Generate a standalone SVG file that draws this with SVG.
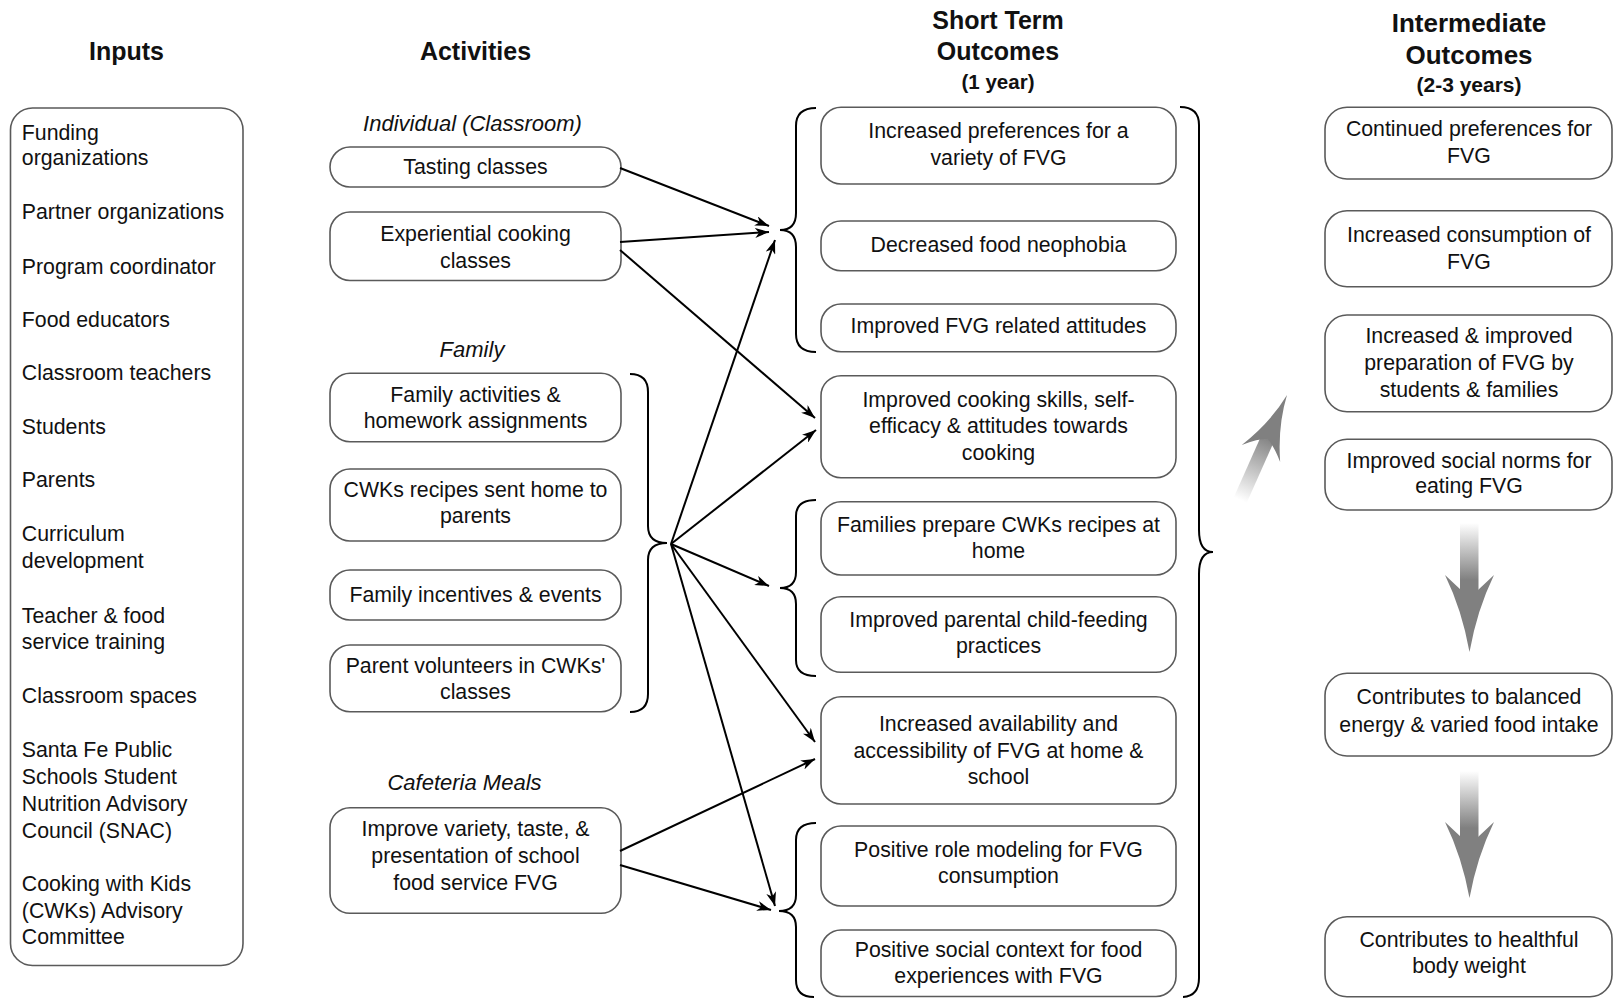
<svg xmlns="http://www.w3.org/2000/svg" width="1614" height="998" viewBox="0 0 1614 998">
<style>
.bx{fill:#fff;stroke:#5a5a5a;stroke-width:1.6}
.t{font-family:"Liberation Sans",Arial,sans-serif;font-size:21.3px;fill:#111}
.c{text-anchor:middle}
.h{font-family:"Liberation Sans",Arial,sans-serif;font-weight:bold;font-size:25px;fill:#111;text-anchor:middle}
.hs{font-family:"Liberation Sans",Arial,sans-serif;font-weight:bold;font-size:20.5px;fill:#111;text-anchor:middle}
.it{font-family:"Liberation Sans",Arial,sans-serif;font-style:italic;font-size:22px;fill:#111;text-anchor:middle}
.ar{fill:none;stroke:#000;stroke-width:2;marker-end:url(#ah)}
.br{fill:none;stroke:#000;stroke-width:2}
</style>
<defs>
<marker id="ah" viewBox="0 0 14 10" markerWidth="14" markerHeight="10" refX="14" refY="5" orient="auto" markerUnits="userSpaceOnUse">
<path d="M0,0 L14,5 L0,10 L4,5 Z" fill="#000"/>
</marker>
<linearGradient id="gd1" gradientUnits="userSpaceOnUse" x1="0" y1="523" x2="0" y2="580">
<stop offset="0" stop-color="#808080" stop-opacity="0"/>
<stop offset="1" stop-color="#808080"/>
</linearGradient>
<linearGradient id="gd2" gradientUnits="userSpaceOnUse" x1="0" y1="771" x2="0" y2="828">
<stop offset="0" stop-color="#808080" stop-opacity="0"/>
<stop offset="1" stop-color="#808080"/>
</linearGradient>
<linearGradient id="gu" gradientUnits="userSpaceOnUse" x1="0" y1="115" x2="0" y2="45">
<stop offset="0" stop-color="#808080" stop-opacity="0"/>
<stop offset="1" stop-color="#808080"/>
</linearGradient>
</defs>
<rect width="1614" height="998" fill="#fff"/>

<g id="headers">
<text class="h" x="126.5" y="60">Inputs</text>
<text class="h" x="475.5" y="60">Activities</text>
<text class="h" x="998" y="28.5">Short Term</text>
<text class="h" x="998" y="60">Outcomes</text>
<text class="hs" x="998" y="88.5">(1 year)</text>
<text class="h" x="1469" y="31.5" style="font-size:26px">Intermediate</text>
<text class="h" x="1469" y="63.5" style="font-size:26px">Outcomes</text>
<text class="hs" x="1469" y="91.5" style="font-size:21px">(2-3 years)</text>
<text class="it" x="472.5" y="131">Individual (Classroom)</text>
<text class="it" x="472" y="356.5">Family</text>
<text class="it" x="464.5" y="790">Cafeteria Meals</text>
</g>

<g id="inputs">
<rect class="bx" x="10.5" y="108" width="232.5" height="857.5" rx="22"/>
<text class="t" x="21.8" y="139.5">Funding</text>
<text class="t" x="21.8" y="165">organizations</text>
<text class="t" x="21.8" y="219.3">Partner organizations</text>
<text class="t" x="21.8" y="274">Program coordinator</text>
<text class="t" x="21.8" y="326.7">Food educators</text>
<text class="t" x="21.8" y="380">Classroom teachers</text>
<text class="t" x="21.8" y="434.3">Students</text>
<text class="t" x="21.8" y="486.7">Parents</text>
<text class="t" x="21.8" y="540.7">Curriculum</text>
<text class="t" x="21.8" y="567.5">development</text>
<text class="t" x="21.8" y="622.7">Teacher &amp; food</text>
<text class="t" x="21.8" y="649.3">service training</text>
<text class="t" x="21.8" y="702.7">Classroom spaces</text>
<text class="t" x="21.8" y="757.3">Santa Fe Public</text>
<text class="t" x="21.8" y="784.3">Schools Student</text>
<text class="t" x="21.8" y="811">Nutrition Advisory</text>
<text class="t" x="21.8" y="837.7">Council (SNAC)</text>
<text class="t" x="21.8" y="891">Cooking with Kids</text>
<text class="t" x="21.8" y="917.7">(CWKs) Advisory</text>
<text class="t" x="21.8" y="944.3">Committee</text>
</g>

<g id="act-tasting">
<rect class="bx" x="330" y="147" width="291" height="40" rx="20"/>
<text class="t c" x="475.5" y="174">Tasting classes</text>
</g>
<g id="act-cooking">
<rect class="bx" x="330" y="212" width="291" height="68.5" rx="20"/>
<text class="t c" x="475.5" y="240.7">Experiential cooking</text>
<text class="t c" x="475.5" y="267.7">classes</text>
</g>
<g id="act-family-activities">
<rect class="bx" x="330" y="373.3" width="291" height="68.4" rx="20"/>
<text class="t c" x="475.5" y="401.7">Family activities &amp;</text>
<text class="t c" x="475.5" y="428.3">homework assignments</text>
</g>
<g id="act-recipes">
<rect class="bx" x="330" y="469" width="291" height="72" rx="20"/>
<text class="t c" x="475.5" y="496.7">CWKs recipes sent home to</text>
<text class="t c" x="475.5" y="523.3">parents</text>
</g>
<g id="act-incentives">
<rect class="bx" x="330" y="570" width="291" height="50" rx="20"/>
<text class="t c" x="475.5" y="602.3">Family incentives &amp; events</text>
</g>
<g id="act-volunteers">
<rect class="bx" x="330" y="645" width="291" height="66.7" rx="20"/>
<text class="t c" x="475.5" y="673.3">Parent volunteers in CWKs'</text>
<text class="t c" x="475.5" y="699.3">classes</text>
</g>
<g id="act-cafeteria">
<rect class="bx" x="330" y="807.7" width="291" height="105.6" rx="20"/>
<text class="t c" x="475.5" y="835.7">Improve variety, taste, &amp;</text>
<text class="t c" x="475.5" y="862.7">presentation of school</text>
<text class="t c" x="475.5" y="890">food service FVG</text>
</g>

<g id="st-preferences">
<rect class="bx" x="821" y="107.3" width="355" height="76.7" rx="20"/>
<text class="t c" x="998.5" y="138.3">Increased preferences for a</text>
<text class="t c" x="998.5" y="165">variety of FVG</text>
</g>
<g id="st-neophobia">
<rect class="bx" x="821" y="221" width="355" height="49.7" rx="20"/>
<text class="t c" x="998.5" y="252.3">Decreased food neophobia</text>
</g>
<g id="st-attitudes">
<rect class="bx" x="821" y="304" width="355" height="47.7" rx="20"/>
<text class="t c" x="998.5" y="333.3">Improved FVG related attitudes</text>
</g>
<g id="st-cooking">
<rect class="bx" x="821" y="375.7" width="355" height="102" rx="20"/>
<text class="t c" x="998.5" y="406.7">Improved cooking skills, self-</text>
<text class="t c" x="998.5" y="433.3">efficacy &amp; attitudes towards</text>
<text class="t c" x="998.5" y="460">cooking</text>
</g>
<g id="st-families">
<rect class="bx" x="821" y="501.7" width="355" height="73.3" rx="20"/>
<text class="t c" x="998.5" y="531.7">Families prepare CWKs recipes at</text>
<text class="t c" x="998.5" y="558.3">home</text>
</g>
<g id="st-parental">
<rect class="bx" x="821" y="596.7" width="355" height="75.6" rx="20"/>
<text class="t c" x="998.5" y="626.7">Improved parental child-feeding</text>
<text class="t c" x="998.5" y="652.7">practices</text>
</g>
<g id="st-availability">
<rect class="bx" x="821" y="696.7" width="355" height="107.3" rx="20"/>
<text class="t c" x="998.5" y="731">Increased availability and</text>
<text class="t c" x="998.5" y="757.7">accessibility of FVG at home &amp;</text>
<text class="t c" x="998.5" y="784.3">school</text>
</g>
<g id="st-role">
<rect class="bx" x="821" y="826" width="355" height="80" rx="20"/>
<text class="t c" x="998.5" y="856.7">Positive role modeling for FVG</text>
<text class="t c" x="998.5" y="883.3">consumption</text>
</g>
<g id="st-social">
<rect class="bx" x="821" y="930" width="355" height="66.5" rx="20"/>
<text class="t c" x="998.5" y="956.7">Positive social context for food</text>
<text class="t c" x="998.5" y="982.7">experiences with FVG</text>
</g>

<g id="im-continued">
<rect class="bx" x="1325" y="107.3" width="287" height="71.7" rx="22"/>
<text class="t c" x="1469" y="136">Continued preferences for</text>
<text class="t c" x="1469" y="162.7">FVG</text>
</g>
<g id="im-consumption">
<rect class="bx" x="1325" y="210.7" width="287" height="76" rx="22"/>
<text class="t c" x="1469" y="242.3">Increased consumption of</text>
<text class="t c" x="1469" y="269.3">FVG</text>
</g>
<g id="im-preparation">
<rect class="bx" x="1325" y="315" width="287" height="96.7" rx="22"/>
<text class="t c" x="1469" y="343.3">Increased &amp; improved</text>
<text class="t c" x="1469" y="370">preparation of FVG by</text>
<text class="t c" x="1469" y="397.3">students &amp; families</text>
</g>
<g id="im-norms">
<rect class="bx" x="1325" y="439.3" width="287" height="70.7" rx="22"/>
<text class="t c" x="1469" y="468.3">Improved social norms for</text>
<text class="t c" x="1469" y="493.3">eating FVG</text>
</g>
<g id="im-balanced">
<rect class="bx" x="1325" y="673.3" width="287" height="82.7" rx="22"/>
<text class="t c" x="1469" y="704">Contributes to balanced</text>
<text class="t c" x="1469" y="731.7">energy &amp; varied food intake</text>
</g>
<g id="im-weight">
<rect class="bx" x="1325" y="916.7" width="287" height="80" rx="22"/>
<text class="t c" x="1469" y="947.3">Contributes to healthful</text>
<text class="t c" x="1469" y="973.3">body weight</text>
</g>

<g id="braces">
<path class="br" d="M630,374 Q648,374 648,392 L648,526 Q648,543 667,543 Q648,543 648,560 L648,694 Q648,712 630,712"/>
<path class="br" d="M816,108 Q796,108 796,126 L796,213 Q796,230 780,230 Q796,230 796,247 L796,334 Q796,352 816,352"/>
<path class="br" d="M816,500 Q796,500 796,516 L796,572 Q796,588 780,588 Q796,588 796,604 L796,660 Q796,676 816,676"/>
<path class="br" d="M816,823 Q796,823 796,840 L796,895 Q796,911 779,911 Q796,911 796,927 L796,980 Q796,997 814,997"/>
<path class="br" d="M1180,107 Q1199,107 1199,125 L1199,530 Q1199,552 1213,552 Q1199,552 1199,574 L1199,978 Q1199,996 1183,997"/>
</g>

<g id="connectors">
<path class="ar" d="M620,168 L769,226"/>
<path class="ar" d="M620,242 L769,232"/>
<path class="ar" d="M620,250 L815,418"/>
<path class="ar" d="M671,544 L775,240"/>
<path class="ar" d="M671,544 L816,430"/>
<path class="ar" d="M671,544 L769,586"/>
<path class="ar" d="M671,544 L815,742"/>
<path class="ar" d="M671,544 L775,906"/>
<path class="ar" d="M620,851 L815,759"/>
<path class="ar" d="M620,865 L771,910"/>
</g>

<g id="flow-arrows">
<g transform="translate(1287,395) rotate(24)">
<rect x="-7" y="40" width="14" height="75" fill="url(#gu)"/>
<path d="M0,0 Q4,32 21,64 Q9,52 0,48 Q-9,52 -21,64 Q-4,32 0,0 Z" fill="#808080"/>
</g>
<rect x="1460" y="523" width="18.5" height="76" fill="url(#gd1)"/>
<path d="M1445,575 L1469.5,598 L1494,575 Q1477,610 1469.5,652 Q1462,610 1445,575 Z" fill="#808080"/>
<rect x="1460" y="771" width="18.5" height="76" fill="url(#gd2)"/>
<path d="M1445,822 L1469.5,845 L1494,822 Q1477,857 1469.5,898 Q1462,857 1445,822 Z" fill="#808080"/>
</g>
</svg>
